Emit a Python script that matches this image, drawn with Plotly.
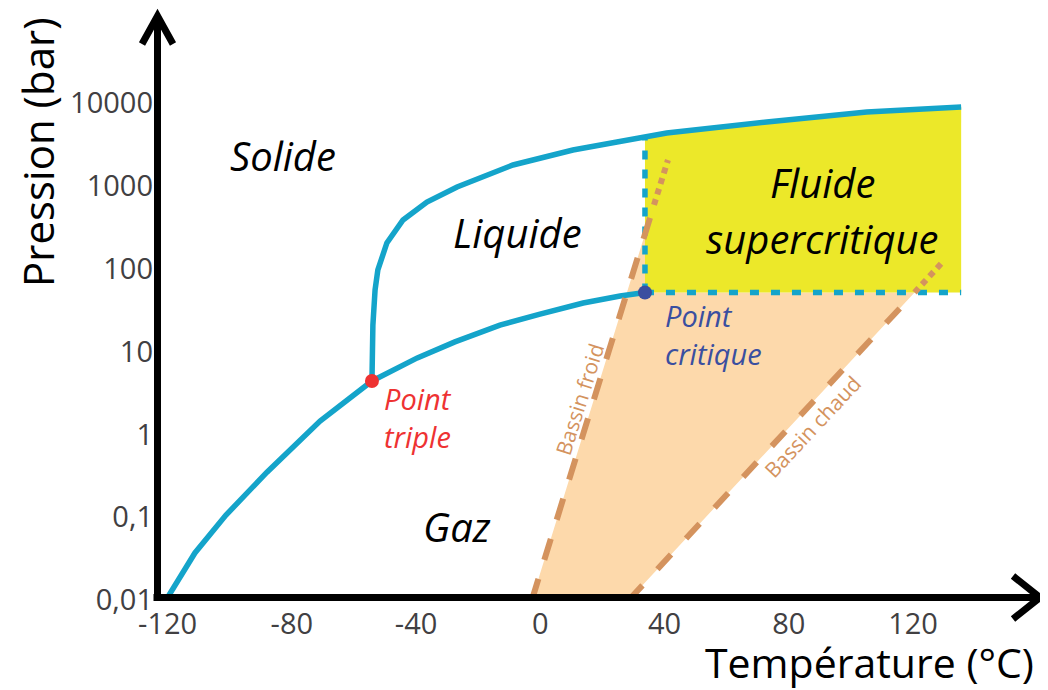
import numpy as np
import plotly.graph_objects as go

# ---------------- data ----------------
x_ticks = [-120, -80, -40, 0, 40, 80, 120]
x_ticktext = ["-120", "-80", "-40", "0", "40", "80", "120"]
y_ticks = [0.01, 0.1, 1, 10, 100, 1000, 10000]
y_ticktext = ["0,01", "0,1", "1", "10", "100", "1000", "10000"]

# solid / gas boundary (sublimation)
sublimation_T = [-120.5, -111.2, -101.2, -88.0, -70.9, -62.9, -54.2]
sublimation_P = [0.01, 0.037, 0.106, 0.35, 1.45, 2.53, 4.42]
# liquid / gas boundary (vaporisation)
vaporisation_T = [-54.2, -39.6, -27.5, -13.0, -0.1, 13.8, 25.7, 33.7]
vaporisation_P = [4.42, 8.4, 13.1, 20.9, 28.4, 38.6, 46.9, 51.8]
# solid / liquid boundary (fusion)
fusion_T = [-54.2, -53.9, -53.2, -52.3, -49.4, -44.2, -36.5, -26.8, -8.8,
            10.5, 24.7, 33.1, 40.7, 72.9, 105.1, 135.5]
fusion_P = [4.42, 20.9, 55.4, 96.8, 205, 388, 641, 973, 1795,
            2722, 3398, 3802, 4365, 5929, 7834, 9000]

triple_T, triple_P = -54.2, 4.42
critical_T, critical_P = 33.7, 51.8
supercritical_T_max = 135.5

# basin geotherms (dashed part, then dotted extension)
froid_T = [-2.7, 36.6, 41.1]
froid_P = [0.01, 590, 2060]
chaud_T = [28.5, 120.5, 129.2]
chaud_P = [0.01, 51.8, 117]

# ---------------- styles ----------------
BLUE = "#14A4CA"
YELLOW = "#ECE829"
PEACH = "#FDD9AB"
TAN = "#D4935E"
RED = "#EE3232"
NAVY = "#3A4FA0"
FONT = "Open Sans"


def logi(T, Ts, Ps):
    return 10 ** np.interp(T, Ts, np.log10(Ps))


fig = go.Figure()

# peach region between the two basin geotherms
froid_at_Tc = logi(critical_T, froid_T[:2], froid_P[:2])
peach_T = [froid_T[0], critical_T, critical_T, chaud_T[1], chaud_T[0]]
peach_P = [froid_P[0], froid_at_Tc, critical_P, critical_P, chaud_P[0]]
fig.add_trace(go.Scatter(x=peach_T, y=peach_P, mode="lines", fill="toself",
                         fillcolor=PEACH, line=dict(width=0), hoverinfo="skip"))

# supercritical region
fT = np.array(fusion_T)
fP = np.array(fusion_P)
fusion_at_Tc = logi(critical_T, fusion_T, fusion_P)
mask = fT > critical_T
sc_T = [critical_T] + list(fT[mask]) + [supercritical_T_max, critical_T]
sc_P = [fusion_at_Tc] + list(fP[mask]) + [critical_P, critical_P]
fig.add_trace(go.Scatter(x=sc_T, y=sc_P, mode="lines", fill="toself",
                         fillcolor=YELLOW, line=dict(width=0), hoverinfo="skip"))

# phase boundaries
for xs, ys in [(sublimation_T, sublimation_P), (vaporisation_T, vaporisation_P),
               (fusion_T, fusion_P)]:
    fig.add_trace(go.Scatter(x=xs, y=ys, mode="lines",
                             line=dict(color=BLUE, width=5.5), hoverinfo="skip"))

# dashed limits of the supercritical domain
fig.add_trace(go.Scatter(x=[critical_T, critical_T], y=[critical_P, fusion_at_Tc],
                         mode="lines", line=dict(color=BLUE, width=5.5, dash="9px,10px")))
fig.add_trace(go.Scatter(x=[critical_T, supercritical_T_max], y=[critical_P, critical_P],
                         mode="lines", line=dict(color=BLUE, width=5.5, dash="9px,12px")))

# basin geotherms
fig.add_trace(go.Scatter(x=froid_T[:2], y=froid_P[:2], mode="lines",
                         line=dict(color=TAN, width=6, dash="22px,20px")))
fig.add_trace(go.Scatter(x=froid_T[1:], y=froid_P[1:], mode="lines",
                         line=dict(color=TAN, width=6, dash="6px,5px")))
fig.add_trace(go.Scatter(x=chaud_T[:2], y=chaud_P[:2], mode="lines",
                         line=dict(color=TAN, width=6, dash="20px,22px")))
fig.add_trace(go.Scatter(x=chaud_T[1:], y=chaud_P[1:], mode="lines",
                         line=dict(color=TAN, width=6, dash="6px,5px")))

# special points
fig.add_trace(go.Scatter(x=[triple_T], y=[triple_P], mode="markers",
                         marker=dict(color=RED, size=14), hoverinfo="skip"))
fig.add_trace(go.Scatter(x=[critical_T], y=[critical_P], mode="markers",
                         marker=dict(color=NAVY, size=14), hoverinfo="skip"))

# ---------------- text ----------------
def ann(text, T, P, size, color, italic=True, xanchor="center", angle=0, align="center"):
    fig.add_annotation(x=T, y=np.log10(P), text=text, showarrow=False,
                       xanchor=xanchor, yanchor="middle", textangle=angle, align=align,
                       font=dict(family=FONT, size=size, color=color,
                                 style="italic" if italic else "normal"))


ann("Solide", -82.9, 10 ** 3.374, 40, "black")
ann("Liquide", -7.2, 10 ** 2.444, 40, "black")
ann("Gaz", -26.8, 10 ** -1.118, 40, "black")
ann("Fluide", 90.7, 10 ** 3.048, 40, "black")
ann("supercritique", 90.7, 10 ** 2.372, 40, "black")
ann("Point<br>triple", -50.9, 10 ** 0.20, 29, RED, xanchor="left", align="left")
ann("Point<br>critique", 39.5, 10 ** 1.21, 29, NAVY, xanchor="left", align="left")
ann("Bassin froid", 12.5, 10 ** 0.42, 21, TAN, italic=False, angle=-72.6)
ann("Bassin chaud", 87.5, 10 ** 0.09, 21, TAN, italic=False, angle=-47)

# ---------------- frame ----------------
# the page body adds an 8 px offset; frame values are page pixels
OFF = 8
FIG_W, FIG_H = 1048 - OFF, 690 - OFF
L, R, TOP, BOT = 157, 1042, 15, 601
W, H = R - L, BOT - TOP


def px(x):
    return (x - L) / W


def py(y):
    return (BOT - y) / H


AX = dict(color="black", width=7)
fig.add_shape(type="line", xref="paper", yref="paper", x0=px(153.5), y0=py(597.5),
              x1=px(1039), y1=py(597.5), line=AX)
fig.add_shape(type="line", xref="paper", yref="paper", x0=px(157.5), y0=py(601),
              x1=px(157.5), y1=py(17), line=AX)
fig.add_shape(type="path", xref="paper", yref="paper", line=AX,
              path=f"M {px(1013)} {py(576)} L {px(1040)} {py(597.5)} L {px(1013)} {py(619)}")
fig.add_shape(type="path", xref="paper", yref="paper", line=AX,
              path=f"M {px(142)} {py(44)} L {px(157.5)} {py(16)} L {px(173)} {py(44)}")

fig.add_annotation(xref="paper", yref="paper", x=px(37), y=py(152), text="Pression (bar)",
                   textangle=-90, showarrow=False, xanchor="center", yanchor="middle",
                   font=dict(family=FONT, size=42, color="black"))
fig.add_annotation(xref="paper", yref="paper", x=px(869), y=py(662), text="Température (°C)",
                   showarrow=False, xanchor="center", yanchor="middle",
                   font=dict(family=FONT, size=41, color="black"))

fig.update_layout(
    width=FIG_W, height=FIG_H, showlegend=False,
    margin=dict(l=L - OFF, r=FIG_W - (R - OFF), t=TOP - OFF, b=FIG_H - (BOT - OFF), pad=0),
    paper_bgcolor="white", plot_bgcolor="white",
    xaxis=dict(range=[(L - 540.3) / 3.106, (R - 540.3) / 3.106],
               tickvals=x_ticks, ticktext=x_ticktext, showgrid=False, zeroline=False,
               showline=False, ticks="", ticklabelstandoff=3,
               tickfont=dict(family=FONT, size=29, color="#414042")),
    yaxis=dict(type="log", range=[(600 - BOT) / 82.8 - 2, (600 - TOP) / 82.8 - 2],
               tickvals=y_ticks, ticktext=y_ticktext, showgrid=False, zeroline=False,
               showline=False, ticks="", ticklabelstandoff=3,
               tickfont=dict(family=FONT, size=29, color="#414042")),
)

fig.write_html("out.html")
